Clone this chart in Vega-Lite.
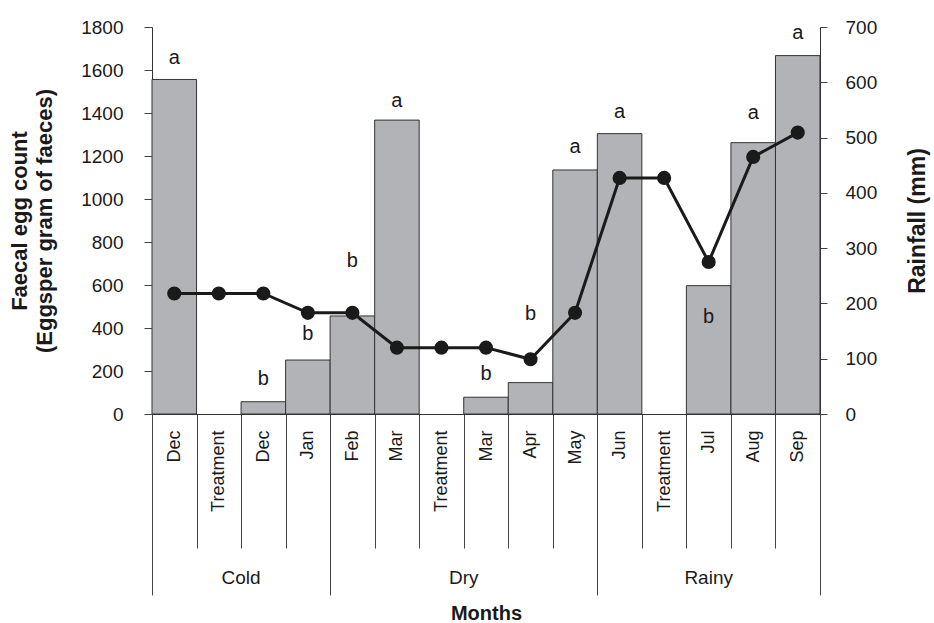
{
  "$schema": "https://vega.github.io/schema/vega-lite/v6.json",
  "width": 668,
  "height": 387,
  "autosize": {"type": "none"},
  "padding": {"left": 152, "top": 27, "right": 114, "bottom": 209},
  "background": "white",
  "config": {
    "font": "Liberation Sans",
    "view": {"stroke": null},
    "axis": {"grid": false, "domainColor": "#333333", "tickColor": "#444444", "labelColor": "#1a1a1a", "titleColor": "#1a1a1a", "labelFont": "Liberation Sans", "titleFont": "Liberation Sans"}
  },
  "data": {
    "values": [
      {"slot": "01|Dec|Cold", "month": "Dec", "season": "Cold", "fec": 1556, "rain": 218, "letter": "a", "letterY": 1628},
      {"slot": "02|Treatment|Cold", "month": "Treatment", "season": "Cold", "fec": null, "rain": 218, "letter": null, "letterY": null},
      {"slot": "03|Dec|Cold", "month": "Dec", "season": "Cold", "fec": 57, "rain": 218, "letter": "b", "letterY": 135},
      {"slot": "04|Jan|Cold", "month": "Jan", "season": "Cold", "fec": 251, "rain": 183, "letter": "b", "letterY": 344},
      {"slot": "05|Feb|Dry", "month": "Feb", "season": "Dry", "fec": 456, "rain": 183, "letter": "b", "letterY": 685},
      {"slot": "06|Mar|Dry", "month": "Mar", "season": "Dry", "fec": 1367, "rain": 120, "letter": "a", "letterY": 1429},
      {"slot": "07|Treatment|Dry", "month": "Treatment", "season": "Dry", "fec": null, "rain": 120, "letter": null, "letterY": null},
      {"slot": "08|Mar|Dry", "month": "Mar", "season": "Dry", "fec": 78, "rain": 120, "letter": "b", "letterY": 158},
      {"slot": "09|Apr|Dry", "month": "Apr", "season": "Dry", "fec": 146, "rain": 99, "letter": "b", "letterY": 437},
      {"slot": "10|May|Dry", "month": "May", "season": "Dry", "fec": 1135, "rain": 183, "letter": "a", "letterY": 1214},
      {"slot": "11|Jun|Rainy", "month": "Jun", "season": "Rainy", "fec": 1304, "rain": 427, "letter": "a", "letterY": 1375},
      {"slot": "12|Treatment|Rainy", "month": "Treatment", "season": "Rainy", "fec": null, "rain": 427, "letter": null, "letterY": null},
      {"slot": "13|Jul|Rainy", "month": "Jul", "season": "Rainy", "fec": 597, "rain": 275, "letter": "b", "letterY": 423},
      {"slot": "14|Aug|Rainy", "month": "Aug", "season": "Rainy", "fec": 1262, "rain": 465, "letter": "a", "letterY": 1371},
      {"slot": "15|Sep|Rainy", "month": "Sep", "season": "Rainy", "fec": 1667, "rain": 509, "letter": "a", "letterY": 1743}
    ]
  },
  "layer": [
    {
      "mark": {"type": "bar", "fill": "#b2b3b7", "stroke": "#333333", "strokeWidth": 1},
      "encoding": {
        "x": {
          "field": "slot", "type": "nominal",
          "scale": {"paddingInner": 0, "paddingOuter": 0},
          "axis": {
            "orient": "bottom",
            "title": null,
            "labelExpr": "split(datum.label, '|')[1]",
            "labelAngle": -90, "labelAlign": "right", "labelBaseline": "middle",
            "labelFontSize": 18, "labelPadding": -118,
            "tickBand": "extent", "tickSize": 134, "tickWidth": 1,
            "domainColor": "#333333"
          }
        },
        "y": {
          "field": "fec", "type": "quantitative",
          "scale": {"domain": [0, 1800]},
          "axis": {
            "orient": "left",
            "values": [0, 200, 400, 600, 800, 1000, 1200, 1400, 1600, 1800],
            "format": "d",
            "tickSize": 8, "labelPadding": 21, "labelFontSize": 19,
            "title": ["Faecal egg count", "(Eggsper gram of  faeces)"],
            "titleFontSize": 22, "titleFontWeight": "bold", "titlePadding": 24, "titleLineHeight": 25
          }
        }
      }
    },
    {
      "mark": {"type": "text", "fontSize": 20, "baseline": "alphabetic", "color": "#1a1a1a"},
      "encoding": {
        "x": {
          "field": "slot", "type": "nominal",
          "axis": {
            "orient": "bottom",
            "values": ["03|Dec|Cold", "08|Mar|Dry", "13|Jul|Rainy"],
            "labelExpr": "split(datum.value, '|')[2]",
            "labelAngle": 0, "labelAlign": "center", "labelBaseline": "middle",
            "labelFontSize": 19, "ticks": false, "tickSize": 0, "domain": false,
            "labelPadding": 163,
            "labelOffset": {"condition": {"test": "datum.value === '13|Jul|Rainy'", "value": 0}, "value": -22.27},
            "title": "Months", "titleFontSize": 20, "titleFontWeight": "bold",
            "titleY": 199, "titleBaseline": "middle"
          }
        },
        "y": {"field": "letterY", "type": "quantitative", "scale": {"domain": [0, 1800]}, "axis": null},
        "text": {"field": "letter"}
      }
    },
    {
      "mark": {"type": "line", "color": "#1a1a1a", "strokeWidth": 3},
      "encoding": {
        "x": {
          "field": "slot", "type": "nominal",
          "axis": {
            "orient": "bottom",
            "title": null,
            "values": ["01|Dec|Cold", "04|Jan|Cold", "10|May|Dry", "15|Sep|Rainy"],
            "labels": false, "domain": false,
            "tickBand": "extent", "tickSize": 181, "tickWidth": 1,
            "tickOpacity": {"condition": {"test": "datum.value === '01|Dec|Cold'", "value": 0}, "value": 1}
          }
        },
        "y": {
          "field": "rain", "type": "quantitative",
          "scale": {"domain": [0, 700]},
          "axis": {
            "orient": "right",
            "values": [0, 100, 200, 300, 400, 500, 600, 700],
            "format": "d",
            "tickSize": 7, "labelPadding": 18, "labelFontSize": 19,
            "title": "Rainfall (mm)", "titleFontSize": 23, "titleFontWeight": "bold",
            "titleAngle": 270, "titleBaseline": "top", "titlePadding": 30
          }
        }
      }
    },
    {
      "mark": {"type": "point", "filled": true, "size": 200, "color": "#1a1a1a", "opacity": 1},
      "encoding": {
        "x": {"field": "slot", "type": "nominal", "axis": null},
        "y": {"field": "rain", "type": "quantitative", "scale": {"domain": [0, 700]}, "axis": null}
      }
    }
  ],
  "resolve": {"scale": {"y": "independent"}, "axis": {"x": "independent", "y": "independent"}}
}
